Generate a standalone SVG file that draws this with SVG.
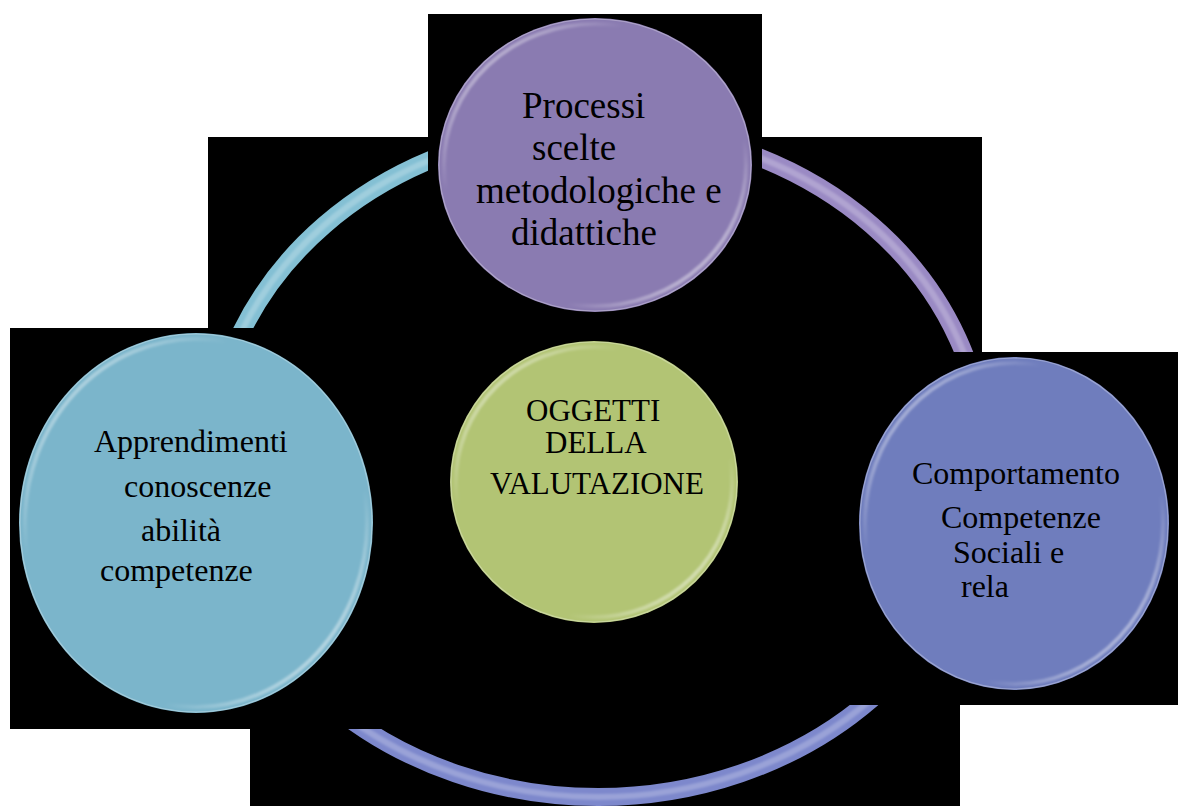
<svg xmlns="http://www.w3.org/2000/svg" width="1178" height="806" viewBox="0 0 1178 806">
<defs>
<style>
.t{font-family:"Liberation Serif","Times New Roman",serif;fill:#000;}
.ring{fill:none;stroke-width:18;}
.ringhi{fill:none;stroke:#ffffff;stroke-width:6;stroke-opacity:0.22;filter:url(#soft);}
.rim{fill:none;stroke:url(#rimg);stroke-width:4;filter:url(#soft);}
.edge{fill:none;stroke:#ffffff;stroke-opacity:0.3;stroke-width:1.2;}
</style>
<filter id="soft" x="-5%" y="-5%" width="110%" height="110%"><feGaussianBlur stdDeviation="1.2"/></filter>
<linearGradient id="rimg" x1="0" y1="0" x2="1" y2="1">
<stop offset="0" stop-color="#fff" stop-opacity="0.7"/>
<stop offset="0.3" stop-color="#fff" stop-opacity="0"/>
<stop offset="0.7" stop-color="#fff" stop-opacity="0"/>
<stop offset="1" stop-color="#fff" stop-opacity="0.8"/>
</linearGradient>
<clipPath id="c1"><rect x="208" y="137" width="220" height="191"/></clipPath>
<clipPath id="c2"><rect x="762" y="137" width="220" height="215"/></clipPath>
<clipPath id="c3"><polygon points="382,560 849,560 849,705 960,705 960,806 250,806 250,729 382,729"/></clipPath>
</defs>
<rect width="1178" height="806" fill="#fff"/>
<polygon id="backdrop" points="428,14 762,14 762,137 982,137 982,352 1178,352 1178,705 960,705 960,806 250,806 250,729 10,729 10,328 208,328 208,137 428,137" fill="#000"/>
<g id="connectors">
<g clip-path="url(#c1)">
<ellipse class="ring" cx="598" cy="462" rx="387" ry="335" stroke="#84c0d4"/>
<ellipse class="ringhi" cx="598" cy="462" rx="387" ry="335"/>
</g>
<g clip-path="url(#c2)">
<ellipse class="ring" cx="598" cy="462" rx="387" ry="335" stroke="#9a8ac4"/>
<ellipse class="ringhi" cx="598" cy="462" rx="387" ry="335"/>
</g>
<g clip-path="url(#c3)">
<ellipse class="ring" cx="598" cy="462" rx="387" ry="335" stroke="#7d88cc"/>
<ellipse class="ringhi" cx="598" cy="462" rx="387" ry="335"/>
</g>
</g>
<g id="node-processi">
<ellipse cx="595" cy="165" rx="157" ry="147" fill="#8a7bb1"/>
<ellipse class="edge" cx="595" cy="165" rx="156" ry="146"/>
<ellipse class="rim" cx="595" cy="165" rx="151" ry="141"/>
<text class="t" font-size="37" x="522" y="118">Processi</text>
<text class="t" font-size="37" x="532" y="160">scelte</text>
<text class="t" font-size="37" x="476" y="203">metodologiche e</text>
<text class="t" font-size="37" x="511" y="245">didattiche</text>
</g>
<g id="node-apprendimenti">
<ellipse cx="196" cy="523" rx="177" ry="190" fill="#7bb5cb"/>
<ellipse class="edge" cx="196" cy="523" rx="176" ry="189"/>
<ellipse class="rim" cx="196" cy="523" rx="171" ry="184"/>
<text class="t" font-size="32" x="94" y="452">Apprendimenti</text>
<text class="t" font-size="32" x="124" y="497">conoscenze</text>
<text class="t" font-size="32" x="141" y="541">abilità</text>
<text class="t" font-size="32" x="100" y="581">competenze</text>
</g>
<g id="node-comportamento">
<ellipse cx="1014" cy="523.5" rx="155" ry="166.5" fill="#6f7dbd"/>
<ellipse class="edge" cx="1014" cy="523.5" rx="154" ry="165.5"/>
<ellipse class="rim" cx="1014" cy="523.5" rx="149" ry="160.5"/>
<text class="t" font-size="32" x="912" y="484">Comportamento</text>
<text class="t" font-size="32" x="941" y="528">Competenze</text>
<text class="t" font-size="32" x="953" y="563">Sociali e</text>
<text class="t" font-size="32" x="961" y="597">rela</text>
</g>
<g id="node-oggetti">
<ellipse cx="594" cy="482" rx="144" ry="141" fill="#b2c474"/>
<ellipse class="edge" cx="594" cy="482" rx="143" ry="140"/>
<ellipse class="rim" cx="594" cy="482" rx="138" ry="135"/>
<text class="t" font-size="31" x="526" y="421">OGGETTI</text>
<text class="t" font-size="31" x="545" y="453">DELLA</text>
<text class="t" font-size="31" x="490" y="494">VALUTAZIONE</text>
</g>
</svg>
